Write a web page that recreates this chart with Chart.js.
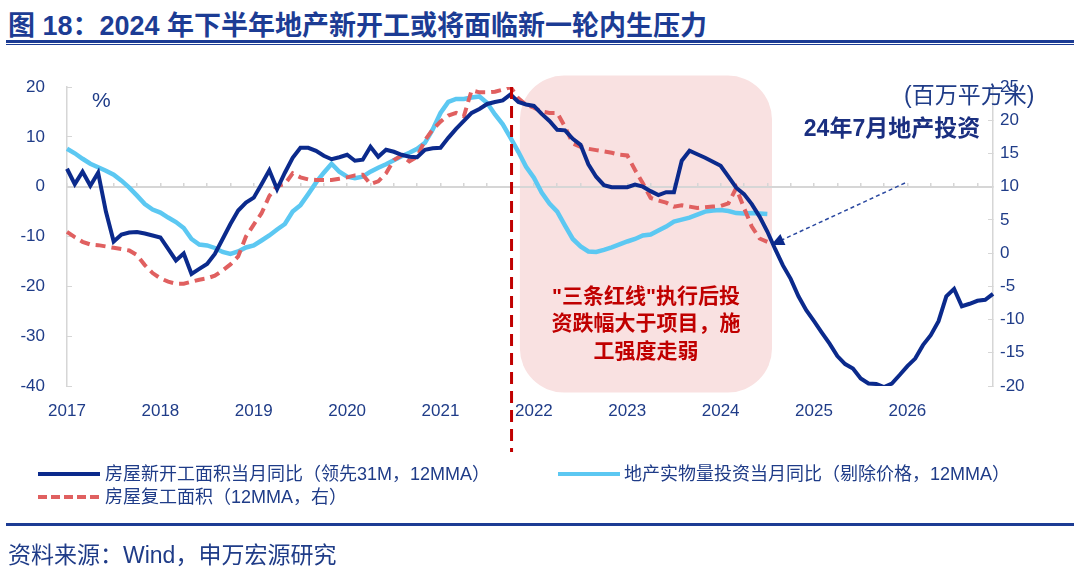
<!DOCTYPE html>
<html>
<head>
<meta charset="utf-8">
<script src="https://cdn.jsdelivr.net/npm/chart.js@4.4.1/dist/chart.umd.min.js"></script>
<style>
  body { margin: 0; background: #fff; }
  #wrap { position: relative; width: 1080px; height: 578px; overflow: hidden;
          font-family: "Liberation Sans", "Noto Sans CJK SC", sans-serif; }
  #chart { position: absolute; left: 0; top: 0; }
  .txt { position: absolute; white-space: nowrap; color: #1F3C88; }
  #title { left: 8px; top: 4px; font-size: 27px; font-weight: bold; color: #1C3C94; }
  .rule { position: absolute; left: 6px; width: 1068px; background: #1C3C94; }
  .sample { position: absolute; height: 4px; width: 62px; }
  .leg { font-size: 18px; line-height: 20px; }
</style>
</head>
<body>
<div id="wrap">
  <div id="title" class="txt">图 18：2024 年下半年地产新开工或将面临新一轮内生压力</div>
  <div class="rule" style="top:40px;height:3px"></div>
  <div class="rule" style="top:44px;height:1px"></div>

  <canvas id="chart" width="1080" height="578"></canvas>

  <div class="txt" style="left:92px;top:88px;font-size:21px">%</div>
  <div class="txt" style="left:904px;top:76px;font-size:23px">(百万平方米)</div>

  <div class="sample" style="left:38px;top:472px;background:#0B2A8C"></div>
  <div class="txt leg" style="left:105px;top:464px">房屋新开工面积当月同比（领先31M，12MMA）</div>
  <div class="sample" style="left:558px;top:472px;background:#5CC8F2"></div>
  <div class="txt leg" style="left:624px;top:464px">地产实物量投资当月同比（剔除价格，12MMA）</div>
  <div class="sample" style="left:38px;top:495px;background:repeating-linear-gradient(90deg,#E06060 0 9px,transparent 9px 13px)"></div>
  <div class="txt leg" style="left:105px;top:487px">房屋复工面积（12MMA，右）</div>

  <div class="rule" style="top:523px;height:3px"></div>
  <div class="txt" style="left:8px;top:536px;font-size:23px">资料来源：Wind，申万宏源研究</div>
</div>

<script>
// categories: monthly, Jan 2017 .. Dec 2026
const years = [2017, 2018, 2019, 2020, 2021, 2022, 2023, 2024, 2025, 2026];
const months = [];
years.forEach(yr => {
  for (let m = 1; m <= 12; m++) months.push(yr + '-' + (m < 10 ? '0' + m : m));
});

// 房屋新开工面积当月同比（领先31M，12MMA），左轴 %
const newStarts = [
  3.6, 0.5, 3.0, 0.2, 2.8, -5.0, -11.0, -9.6, -9.2, -9.1, -9.4, -9.8,
  -10.2, -12.5, -14.8, -13.4, -17.5, -16.5, -15.5, -13.5, -10.5, -7.5, -4.8, -3.2,
  -2.2, 0.5, 3.3, -0.5, 2.8, 5.8, 7.8, 7.8, 7.2, 6.2, 5.5, 5.9,
  6.4, 5.2, 5.4, 8.0, 6.0, 7.4, 7.0, 6.4, 6.0, 5.9, 7.4, 7.7,
  7.8, 9.8, 11.6, 13.2, 14.8, 15.6, 16.6, 17.0, 17.3, 18.5, 17.0, 16.5,
  16.2, 14.6, 13.2, 11.4, 11.3, 9.6, 8.4, 4.5, 2.0, 0.3, -0.1, -0.1,
  -0.1, 0.4, 0.0, -0.9, -1.7, -1.1, -1.1, 5.2, 7.2, 6.5, 5.8, 5.0,
  4.2, 2.0, -0.2, -1.5, -3.5, -6.0, -9.0, -12.5, -15.8, -18.5, -22.0, -24.8,
  -27.0, -29.3, -31.5, -34.0, -35.6, -36.5, -38.5, -39.5, -39.6, -40.2, -39.5, -37.8,
  -36.0, -34.5, -31.8, -29.8, -27.0, -22.0, -20.5, -24.0, -23.5, -22.9, -22.7, -21.5
];

// 地产实物量投资当月同比（剔除价格，12MMA），左轴 %
const realInvest = [
  7.6, 6.7, 5.6, 4.6, 3.9, 3.2, 2.4, 1.2, -0.2, -1.8, -3.5, -4.6,
  -5.2, -6.2, -7.1, -8.3, -10.5, -11.6, -11.8, -12.3, -13.1, -13.5, -13.0, -12.2,
  -11.8, -10.8, -9.8, -8.6, -7.5, -5.0, -3.7, -1.5, 0.8, 2.8, 4.6, 3.0,
  2.0, 1.7, 2.0, 3.0, 3.8, 4.5, 5.3, 6.1, 6.8, 7.6, 8.8, 11.5,
  14.8, 17.0, 17.6, 17.6, 17.9, 18.1, 16.8, 14.5, 12.5, 9.8, 7.0, 4.0,
  1.8, -1.2, -3.4, -5.0, -7.8, -10.5, -12.0, -13.0, -13.1, -12.7, -12.2, -11.6,
  -11.0, -10.5, -9.8, -9.6, -8.8, -8.0, -7.0, -6.6, -6.2, -5.6, -5.0, -4.8,
  -4.7, -4.9, -5.3, -5.4, -5.3, -5.4, -5.5
];

// 房屋复工面积（12MMA，右轴 百万平方米）
const resumed = [
  3.2, 2.4, 1.7, 1.3, 1.2, 1.0, 0.8, 0.6, 0.4, -0.3, -1.8, -3.0,
  -3.8, -4.3, -4.6, -4.6, -4.3, -4.0, -3.8, -3.4, -2.6, -1.7, -0.5, 2.5,
  4.3, 6.0, 8.6, 10.1, 10.4, 12.0, 11.4, 11.1, 11.0, 11.0, 11.0, 11.2,
  11.4, 11.7, 11.8, 10.4, 10.8, 12.0, 14.0, 14.7, 13.8, 14.5, 17.0, 18.6,
  19.8, 20.7, 21.1, 20.6, 24.5, 24.2, 24.2, 24.3, 24.6, 25.0, 23.3, 22.3,
  21.9, 21.3, 21.1, 21.1, 19.0, 16.5, 16.0, 15.7, 15.5, 15.3, 15.1, 14.8,
  14.7, 12.5, 10.5, 8.3, 7.9, 7.6, 7.0, 7.2, 7.0, 6.8, 6.9, 7.0,
  7.1, 7.5, 9.8, 6.8, 4.0, 2.2, 1.7
];

// 标注位置（按月份序号）
const markIndex = 57;              // 2021-10 三条红线
const boxFrom = 58.2, boxTo = 90.6;
const arrowAt = 91;                // 24年7月地产投资

const blue = '#1F3C88';
const grey = '#D6D6D6';

const overlay = {
  id: 'overlay',
  beforeDraw(chart) {
    const { ctx, scales: { x, y } } = chart;
    const l = x.getPixelForValue(boxFrom), r = x.getPixelForValue(boxTo);
    const t = y.getPixelForValue(22.3), b = y.getPixelForValue(-41.3);
    ctx.save();
    ctx.fillStyle = '#F9E1E1';
    ctx.beginPath();
    ctx.roundRect(l, t, r - l, b - t, 44);
    ctx.fill();
    ctx.restore();
  },
  afterDatasetsDraw(chart) {
    const { ctx, chartArea, scales: { x, y } } = chart;
    ctx.save();
    // 红色竖虚线
    const mx = x.getPixelForValue(markIndex) + 1;
    ctx.strokeStyle = '#C00000';
    ctx.lineWidth = 3;
    ctx.setLineDash([12, 7]);
    ctx.beginPath();
    ctx.moveTo(mx, chartArea.top);
    ctx.lineTo(mx, 452);
    ctx.stroke();

    // 框内文字
    ctx.setLineDash([]);
    ctx.fillStyle = '#C00000';
    ctx.font = 'bold 21px "Liberation Sans", "Noto Sans CJK SC", sans-serif';
    ctx.textAlign = 'center';
    ctx.textBaseline = 'middle';
    const cx = (x.getPixelForValue(boxFrom) + x.getPixelForValue(boxTo)) / 2;
    ctx.fillText('"三条红线"执行后投', cx, 297);
    ctx.fillText('资跌幅大于项目，施', cx, 324);
    ctx.fillText('工强度走弱', cx, 352);

    // 24年7月地产投资 + 箭头
    ctx.fillStyle = '#1A2F80';
    ctx.font = 'bold 23px "Liberation Sans", "Noto Sans CJK SC", sans-serif';
    ctx.fillText('24年7月地产投资', 892, 130);

    const tx = x.getPixelForValue(arrowAt) - 4, ty = y.getPixelForValue(newStarts[arrowAt]) - 4;
    const sx = 905, sy = 183;
    const ang = Math.atan2(ty - sy, tx - sx);
    ctx.strokeStyle = '#2A48A0';
    ctx.lineWidth = 1.5;
    ctx.setLineDash([4, 3]);
    ctx.beginPath();
    ctx.moveTo(sx, sy);
    ctx.lineTo(tx - 10 * Math.cos(ang), ty - 10 * Math.sin(ang));
    ctx.stroke();
    ctx.setLineDash([]);
    ctx.fillStyle = '#0B2A8C';
    ctx.beginPath();
    ctx.moveTo(tx, ty);
    ctx.lineTo(tx - 13 * Math.cos(ang) + 6 * Math.sin(ang), ty - 13 * Math.sin(ang) - 6 * Math.cos(ang));
    ctx.lineTo(tx - 13 * Math.cos(ang) - 6 * Math.sin(ang), ty - 13 * Math.sin(ang) + 6 * Math.cos(ang));
    ctx.closePath();
    ctx.fill();
    ctx.restore();
  }
};

const tickFont = { family: '"Liberation Sans", "Noto Sans CJK SC", sans-serif', size: 17 };

new Chart(document.getElementById('chart'), {
  type: 'line',
  data: {
    labels: months,
    datasets: [
      { label: '房屋新开工面积当月同比（领先31M，12MMA）', data: newStarts, yAxisID: 'y',
        borderColor: '#0B2A8C', borderWidth: 4, pointRadius: 0, tension: 0 },
      { label: '房屋复工面积（12MMA，右）', data: resumed, yAxisID: 'y2',
        borderColor: '#E06060', borderWidth: 4, borderDash: [10, 6], pointRadius: 0, tension: 0 },
      { label: '地产实物量投资当月同比（剔除价格，12MMA）', data: realInvest, yAxisID: 'y',
        borderColor: '#5CC8F2', borderWidth: 4.5, pointRadius: 0, tension: 0 }
    ]
  },
  options: {
    responsive: false,
    animation: false,
    devicePixelRatio: 1,
    layout: { padding: { left: 15, right: 37, top: 87, bottom: 152 } },
    plugins: { legend: { display: false }, tooltip: { enabled: false } },
    scales: {
      x: {
        grid: { display: false },
        border: { display: false },
        ticks: {
          autoSkip: false, maxRotation: 0, padding: 7, color: blue, font: tickFont,
          callback(val) {
            const l = this.getLabelForValue(val);
            return l.endsWith('-01') ? l.slice(0, 4) : null;
          }
        },
        afterFit(s) { s.height = 40; }
      },
      x2: {
        type: 'category',
        position: { y: 0 },
        grid: { drawOnChartArea: false, tickLength: -5, lineWidth: 1.5,
                color: ctx => ctx.index % 3 === 0 ? grey : 'rgba(0,0,0,0)' },
        border: { color: grey, width: 2 },
        ticks: { display: false }
      },
      y: {
        position: 'left', min: -40, max: 20,
        grid: { drawOnChartArea: false, tickLength: -5, color: grey },
        border: { color: grey, width: 1.5 },
        ticks: { stepSize: 10, padding: 27, color: blue, font: tickFont },
        afterFit(s) { s.width = 52; }
      },
      y2: {
        position: 'right', min: -20, max: 25,
        grid: { drawOnChartArea: false, tickLength: -5, color: grey },
        border: { color: grey, width: 1.5 },
        ticks: { stepSize: 5, padding: 12, color: blue, font: tickFont },
        afterFit(s) { s.width = 50; }
      }
    }
  },
  plugins: [overlay]
});
</script>
</body>
</html>
